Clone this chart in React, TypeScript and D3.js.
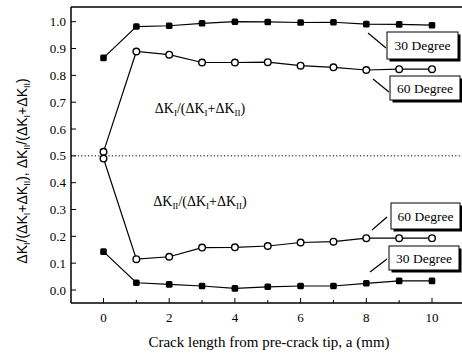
import React from "react";
import * as d3 from "d3";

const crackLength = [0, 1, 2, 3, 4, 5, 6, 7, 8, 9, 10];
const kI30 = [0.865, 0.982, 0.985, 0.994, 1.0, 0.999, 0.997, 0.998, 0.991, 0.99, 0.987];
const kI60 = [0.515, 0.889, 0.877, 0.848, 0.848, 0.849, 0.836, 0.83, 0.82, 0.823, 0.823];
const kII60 = [0.49, 0.115, 0.124, 0.158, 0.159, 0.164, 0.177, 0.18, 0.193, 0.193, 0.193];
const kII30 = [0.143, 0.027, 0.021, 0.015, 0.006, 0.012, 0.015, 0.015, 0.025, 0.034, 0.034];
const xTicks = [0, 2, 4, 6, 8, 10];
const xMinorTicks = [1, 3, 5, 7, 9];
const yTicks = [0, 0.1, 0.2, 0.3, 0.4, 0.5, 0.6, 0.7, 0.8, 0.9, 1.0];

const FONT = "'Liberation Serif', 'DejaVu Serif', serif";
const SANS = "'Liberation Sans', Arial, sans-serif";

const W = 462, H = 354;
const left = 71, top = 7, bottom = 303, right = 462;

export default function App() {
  const x = d3.scaleLinear().domain([0, 10]).range([103.5, 432]);
  const y = d3.scaleLinear().domain([0, 1]).range([290, 21.7]);
  const line = d3.line<number>().x((_, i) => x(crackLength[i])).y((d) => y(d));

  const series = [
    { vals: kI30, filled: true },
    { vals: kI60, filled: false },
    { vals: kII60, filled: false },
    { vals: kII30, filled: true },
  ];

  const callouts = [
    { text: "30 Degree", bx: 387, by: 32, bw: 71, bh: 27, lx1: 368, ly1: 33, lx2: 386, ly2: 48 },
    { text: "60 Degree", bx: 390, by: 76, bw: 70, bh: 24, lx1: 373, ly1: 79, lx2: 389, ly2: 92 },
    { text: "60 Degree", bx: 391, by: 203, bw: 69, bh: 26, lx1: 372, ly1: 230, lx2: 387, ly2: 217 },
    { text: "30 Degree", bx: 389, by: 246, bw: 70, bh: 24, lx1: 370, ly1: 272, lx2: 387, ly2: 259 },
  ];

  return (
    <svg width={W} height={H} style={{ position: "absolute", left: 0, top: 0, background: "#fff" }}>
      <rect x={0} y={0} width={W} height={H} fill="#fff" />
      {/* frame */}
      <line x1={left} y1={top} x2={right} y2={top} stroke="#000" strokeWidth={1.5} />
      <line x1={left} y1={top} x2={left} y2={bottom} stroke="#000" strokeWidth={1.5} />
      <line x1={left} y1={bottom} x2={right} y2={bottom} stroke="#000" strokeWidth={1.5} />
      {/* y ticks */}
      {yTicks.map((t) => (
        <g key={"y" + t}>
          <line x1={left} x2={left + 5} y1={y(t)} y2={y(t)} stroke="#000" strokeWidth={1} />
          <text x={left - 5} y={y(t)} dy="0.35em" textAnchor="end" fontFamily={FONT} fontSize={13} fill="#000">
            {t.toFixed(1)}
          </text>
        </g>
      ))}
      {/* x ticks */}
      {xTicks.map((t) => (
        <g key={"x" + t}>
          <line x1={x(t)} x2={x(t)} y1={bottom} y2={bottom - 5} stroke="#000" strokeWidth={1} />
          <text x={x(t)} y={322} textAnchor="middle" fontFamily={FONT} fontSize={13} fill="#000">
            {t}
          </text>
        </g>
      ))}
      {xMinorTicks.map((t) => (
        <line key={"xm" + t} x1={x(t)} x2={x(t)} y1={bottom} y2={bottom - 3} stroke="#000" strokeWidth={1} />
      ))}
      {/* dotted 0.5 line */}
      <line x1={left} x2={right} y1={y(0.5)} y2={y(0.5)} stroke="#000" strokeWidth={1} strokeDasharray="1.2,2.2" />
      {/* series */}
      {series.map((s, si) => (
        <g key={"s" + si}>
          <path d={line(s.vals) || ""} fill="none" stroke="#000" strokeWidth={1.2} />
          {s.vals.map((v, i) =>
            s.filled ? (
              <rect key={i} x={x(crackLength[i]) - 3.3} y={y(v) - 3.3} width={6.6} height={6.6} rx={1.5} fill="#000" />
            ) : (
              <circle key={i} cx={x(crackLength[i])} cy={y(v)} r={3.3} fill="#fff" stroke="#000" strokeWidth={1.4} />
            )
          )}
        </g>
      ))}
      {/* inner annotations */}
      <text x={200} y={113} textAnchor="middle" fontFamily={FONT} fontSize={14} fill="#000">
        ΔK<tspan fontSize={9} dy={3}>I</tspan>
        <tspan dy={-3}>/(ΔK</tspan>
        <tspan fontSize={9} dy={3}>I</tspan>
        <tspan dy={-3}>+ΔK</tspan>
        <tspan fontSize={9} dy={3}>II</tspan>
        <tspan dy={-3}>)</tspan>
      </text>
      <text x={200} y={206} textAnchor="middle" fontFamily={FONT} fontSize={14} fill="#000">
        ΔK<tspan fontSize={9} dy={3}>II</tspan>
        <tspan dy={-3}>/(ΔK</tspan>
        <tspan fontSize={9} dy={3}>I</tspan>
        <tspan dy={-3}>+ΔK</tspan>
        <tspan fontSize={9} dy={3}>II</tspan>
        <tspan dy={-3}>)</tspan>
      </text>
      {/* callouts */}
      {callouts.map((c, i) => (
        <g key={"c" + i}>
          <line x1={c.lx1} y1={c.ly1} x2={c.lx2} y2={c.ly2} stroke="#000" strokeWidth={1.2} />
          <rect x={c.bx + 2.5} y={c.by + 2.5} width={c.bw} height={c.bh} fill="#000" />
          <rect x={c.bx} y={c.by} width={c.bw} height={c.bh} fill="#fff" stroke="#000" strokeWidth={1} />
          <text x={c.bx + c.bw / 2} y={c.by + c.bh / 2} dy="0.35em" textAnchor="middle" fontFamily={FONT} fontSize={13.5} fill="#000">
            {c.text}
          </text>
        </g>
      ))}
      {/* axis titles */}
      <text x={269} y={347} textAnchor="middle" fontFamily={FONT} fontSize={15} fill="#000">
        Crack length from pre-crack tip, a (mm)
      </text>
      <text transform="translate(27,171) rotate(-90)" textAnchor="middle" fontFamily={SANS} fontSize={14} fill="#000">
        ΔK<tspan fontSize={9} dy={3}>I</tspan>
        <tspan dy={-3}>/(ΔK</tspan>
        <tspan fontSize={9} dy={3}>I</tspan>
        <tspan dy={-3}>+ΔK</tspan>
        <tspan fontSize={9} dy={3}>II</tspan>
        <tspan dy={-3}>),  ΔK</tspan>
        <tspan fontSize={9} dy={3}>II</tspan>
        <tspan dy={-3}>/(ΔK</tspan>
        <tspan fontSize={9} dy={3}>I</tspan>
        <tspan dy={-3}>+ΔK</tspan>
        <tspan fontSize={9} dy={3}>II</tspan>
        <tspan dy={-3}>)</tspan>
      </text>
    </svg>
  );
}
